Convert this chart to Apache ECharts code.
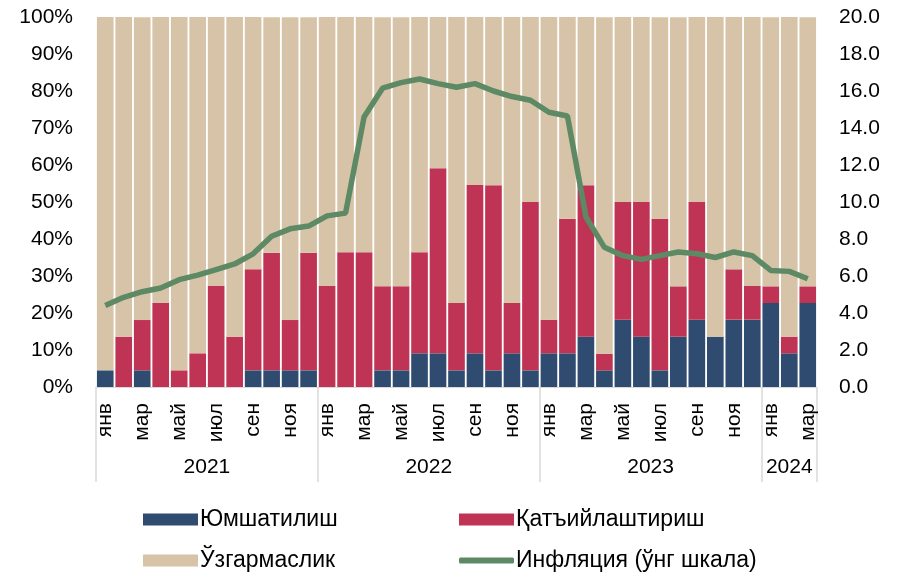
<!DOCTYPE html>
<html>
<head>
<meta charset="utf-8">
<script src="https://cdn.jsdelivr.net/npm/echarts@6/dist/echarts.min.js"></script>
<style>html,body{margin:0;padding:0;background:#fff}#c{width:898px;height:573px}</style>
</head>
<body>
<div id="c"></div>
<script>
// Categories: Jan 2021 .. Mar 2024
const months = [
  'янв','фев','мар','апр','май','июн','июл','авг','сен','окт','ноя','дек',
  'янв','фев','мар','апр','май','июн','июл','авг','сен','окт','ноя','дек',
  'янв','фев','мар','апр','май','июн','июл','авг','сен','окт','ноя','дек',
  'янв','фев','мар'
];
const years = ['2021','2022','2023','2024'];
const yearStart = [0, 12, 24, 36];
const yearEnd = [12, 24, 36, 39];

// Shares, % of respondents
const easing = [
  4.5,0,4.5,0,0,0,0,0,4.5,4.5,4.5,4.5,
  0,0,0,4.5,4.5,9.1,9.1,4.5,9.1,4.5,9.1,4.5,
  9.1,9.1,13.6,4.5,18.2,13.6,4.5,13.6,18.2,13.6,18.2,18.2,
  22.7,9.1,22.7
];
const tightening = [
  0,13.6,13.6,22.7,4.5,9.1,27.3,13.6,27.3,31.8,13.6,31.8,
  27.3,36.4,36.4,22.7,22.7,27.3,50.0,18.2,45.5,50.0,13.6,45.5,
  9.1,36.4,40.9,4.5,31.8,36.4,40.9,13.6,31.8,0,13.6,9.1,
  4.5,4.5,4.5
];
const unchanged = [
  95.5,86.4,81.8,77.3,95.5,90.9,72.7,86.4,68.2,63.6,81.8,63.6,
  72.7,63.6,63.6,72.7,72.7,63.6,40.9,77.3,45.5,45.5,77.3,50.0,
  81.8,54.5,45.5,90.9,50.0,50.0,54.5,72.7,50.0,86.4,68.2,72.7,
  72.7,86.4,72.7
];
// Inflation, % (right axis)
const inflation = [
  4.4,4.85,5.15,5.35,5.8,6.05,6.35,6.65,7.2,8.15,8.55,8.7,
  9.25,9.4,14.6,16.15,16.45,16.65,16.4,16.2,16.4,16.0,15.7,15.5,
  14.85,14.65,9.2,7.55,7.1,6.9,7.1,7.3,7.2,7.0,7.3,7.1,
  6.3,6.25,5.85
];

const names = ['Юмшатилиш','Қатъийлаштириш','Ўзгармаслик','Инфляция (ўнг шкала)'];
const colors = ['#2F4B6F','#BF3455','#D7C4A8','#5D8A64'];
const FONT = "'Liberation Sans', Arial, sans-serif";
const FS = 21;
const LFS = 23;

const yearMid = yearStart.map((s,i)=>(s+yearEnd[i])/2);

function leg(name, left, top, icon, h){
  return {data:[name],left:left,top:top,itemWidth:55,itemHeight:h,icon:icon,
    textStyle:{fontSize:LFS,color:'#000',fontFamily:FONT,padding:[0,0,0,-3]}};
}

const chart = echarts.init(document.getElementById('c'));
chart.setOption({
  animation:false,
  textStyle:{fontFamily:FONT},
  grid:{left:96,right:81,top:17,bottom:186},
  legend:[
    leg(names[0],138,503,'rect',12),
    leg(names[2],138,544,'rect',12),
    leg(names[1],454,503,'rect',12),
    leg(names[3],454,544,'roundRect',6)
  ],
  xAxis:[
    {type:'category',data:months,position:'bottom',
     axisLine:{show:true,lineStyle:{color:'#d9d9d9',width:1}},
     axisTick:{show:false},
     axisLabel:{interval:1,rotate:90,fontSize:FS,color:'#000',margin:16,fontFamily:FONT}},
    {type:'value',min:0,max:months.length,position:'bottom',
     axisLine:{show:false},
     splitLine:{show:false},
     axisTick:{show:true,customValues:[0,12,24,36,39],length:95,lineStyle:{color:'#d9d9d9',width:1.5}},
     axisLabel:{customValues:yearMid,fontSize:FS,color:'#000',margin:70,fontFamily:FONT,
       formatter:function(v){const i=yearMid.indexOf(v);return i>=0?years[i]:'';}}}
  ],
  yAxis:[
    {type:'value',min:0,max:100,interval:10,
     axisLine:{show:false},axisTick:{show:false},splitLine:{show:false},
     axisLabel:{formatter:'{value}%',fontSize:FS,color:'#000',margin:23,fontFamily:FONT}},
    {type:'value',min:0,max:20,interval:2,position:'right',
     axisLine:{show:false},axisTick:{show:false},splitLine:{show:false},
     axisLabel:{formatter:function(v){return v.toFixed(1);},fontSize:FS,color:'#000',margin:22,fontFamily:FONT}}
  ],
  series:[
    {name:names[0],type:'bar',stack:'s',data:easing,barCategoryGap:'10%',itemStyle:{color:colors[0]}},
    {name:names[1],type:'bar',stack:'s',data:tightening,itemStyle:{color:colors[1]}},
    {name:names[2],type:'bar',stack:'s',data:unchanged,itemStyle:{color:colors[2]}},
    {name:names[3],type:'line',yAxisIndex:1,data:inflation,symbol:'none',
     lineStyle:{color:colors[3],width:5.5},itemStyle:{color:colors[3]}}
  ]
});
</script>
</body>
</html>
